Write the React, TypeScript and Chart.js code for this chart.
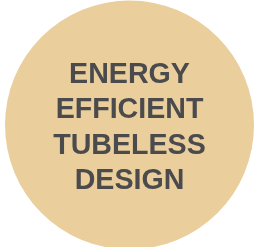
import React, { useEffect, useRef } from "react";
import { Chart, registerables } from "chart.js";

Chart.register(...registerables);

const categories = ["Energy efficient tubeless design"];
const values = [1];
const textLines = ["ENERGY", "EFFICIENT", "TUBELESS", "DESIGN"];

const FILL = "#EACE9B";
const TEXT = "#4B4B4D";

export default function App() {
  const ref = useRef<HTMLCanvasElement | null>(null);

  useEffect(() => {
    if (!ref.current) return;
    const labelPlugin = {
      id: "centerText",
      afterDraw(chart: any) {
        const { ctx } = chart;
        const meta = chart.getDatasetMeta(0);
        const arc = meta.data[0];
        if (!arc) return;
        const cx = arc.x;
        const cy = arc.y;
        ctx.save();
        ctx.fillStyle = TEXT;
        ctx.font = "bold 28.6px 'Liberation Sans', Arial, sans-serif";
        ctx.textAlign = "center";
        ctx.textBaseline = "alphabetic";
        const lh = 35.3;
        const firstBaseline = cy - 42;
        textLines.forEach((t, i) => {
          ctx.fillText(t, cx, firstBaseline + i * lh);
        });
        ctx.restore();
      },
    };
    const chart = new Chart(ref.current, {
      type: "pie",
      data: {
        labels: categories,
        datasets: [
          {
            data: values,
            backgroundColor: [FILL],
            borderWidth: 0,
          },
        ],
      },
      options: {
        animation: false,
        responsive: false,
        maintainAspectRatio: false,
        layout: { padding: 0 },
        plugins: {
          legend: { display: false },
          tooltip: { enabled: false },
        },
      },
      plugins: [labelPlugin],
    });
    return () => chart.destroy();
  }, []);

  return (
    <div style={{ position: "fixed", left: 5, top: 0, width: 249, height: 250 }}>
      <canvas ref={ref} width={249} height={250} style={{ width: 249, height: 250, display: "block" }} />
    </div>
  );
}
